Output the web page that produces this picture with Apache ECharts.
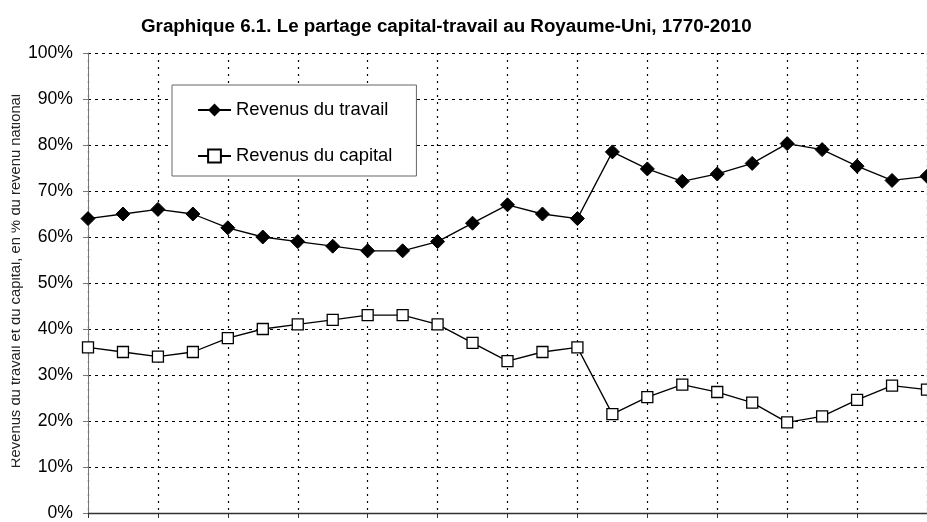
<!DOCTYPE html>
<html>
<head>
<meta charset="utf-8">
<script src="https://cdn.jsdelivr.net/npm/echarts@6/dist/echarts.min.js"></script>
<style>
  html, body { margin: 0; padding: 0; background: #fff; }
  #chart { width: 927px; height: 522px; }
</style>
</head>
<body>
<div id="chart"></div>
<script>
// annees, une tous les 10 ans
const years = ['1770','1780','1790','1800','1810','1820','1830','1840','1850','1860',
  '1870','1880','1890','1900','1910','1920','1930','1940','1950','1960',
  '1970','1980','1990','2000','2010'];
// part du travail (% du revenu national)
const travail = [64, 65, 66, 65, 62, 60, 59, 58, 57, 57,
  59, 63, 67, 65, 64, 78.5, 74.8, 72.1, 73.7, 76,
  80.3, 79, 75.4, 72.3, 73.2];
// part du capital
const capital = [36, 35, 34, 35, 38, 40, 41, 42, 43, 43,
  41, 37, 33, 35, 36, 21.5, 25.2, 27.9, 26.3, 24,
  19.7, 21, 24.6, 27.7, 26.8];
const yTicks = [0, 100, 10]; // min, max, pas

const font = 'Liberation Sans, Arial, sans-serif';
const chart = echarts.init(document.getElementById('chart'));

chart.setOption({
  animation: false,
  backgroundColor: '#fff',
  title: {
    text: 'Graphique 6.1. Le partage capital-travail au Royaume-Uni, 1770-2010',
    left: 136,
    top: 12,
    textStyle: { fontFamily: font, fontSize: 18.8, fontWeight: 'bold', color: '#000' }
  },
  legend: {
    orient: 'vertical',
    left: 172,
    top: 85,
    padding: [16, 24, 11, 25],
    itemGap: 28,
    itemWidth: 33,
    itemHeight: 16,
    backgroundColor: '#fff',
    borderColor: '#666',
    borderWidth: 1,
    textStyle: { fontFamily: font, fontSize: 18.4, color: '#000' },
    data: ['Revenus du travail', 'Revenus du capital']
  },
  grid: { left: 88, top: 53, width: 841, height: 466 },
  xAxis: {
    type: 'category',
    data: years,
    boundaryGap: false,
    axisLine: { lineStyle: { color: '#333', width: 1.3 } },
    axisTick: { interval: 1, length: 5, lineStyle: { color: '#333' } },
    axisLabel: { show: false },
    splitLine: {
      show: true,
      interval: 1,
      lineStyle: { color: '#000', type: [2, 5], width: 1.2 }
    }
  },
  yAxis: {
    type: 'value',
    min: yTicks[0],
    max: yTicks[1],
    interval: yTicks[2],
    axisLine: { show: true, lineStyle: { color: '#777', width: 1 } },
    axisTick: { show: true, length: 5, lineStyle: { color: '#777' } },
    axisLabel: { formatter: '{value}%', margin: 15, fontFamily: font, fontSize: 17.6, color: '#000' },
    splitLine: { lineStyle: { color: '#000', type: [3, 4], width: 1.2 } }
  },
  graphic: [{
    type: 'text',
    x: 15.5,
    y: 281,
    rotation: Math.PI / 2,
    style: {
      text: 'Revenus du travail et du capital, en % du revenu national',
      font: '14.8px ' + font,
      fill: '#222',
      align: 'center',
      verticalAlign: 'middle'
    },
    z: 10
  }, {
    type: 'rect',
    shape: { x: 0, y: 60, width: 11.5, height: 440 },
    style: { fill: '#fff' },
    z: 11
  }],
  series: [{
    name: 'Revenus du travail',
    type: 'line',
    data: travail,
    symbol: 'diamond',
    symbolSize: 14,
    lineStyle: { color: '#000', width: 1.3 },
    itemStyle: { color: '#000', borderColor: '#000' },
    z: 3
  }, {
    name: 'Revenus du capital',
    type: 'line',
    data: capital,
    symbol: 'rect',
    symbolSize: 11,
    lineStyle: { color: '#000', width: 1.3 },
    itemStyle: { color: '#fff', borderColor: '#000', borderWidth: 1.3 },
    z: 3
  }]
});
</script>
</body>
</html>
